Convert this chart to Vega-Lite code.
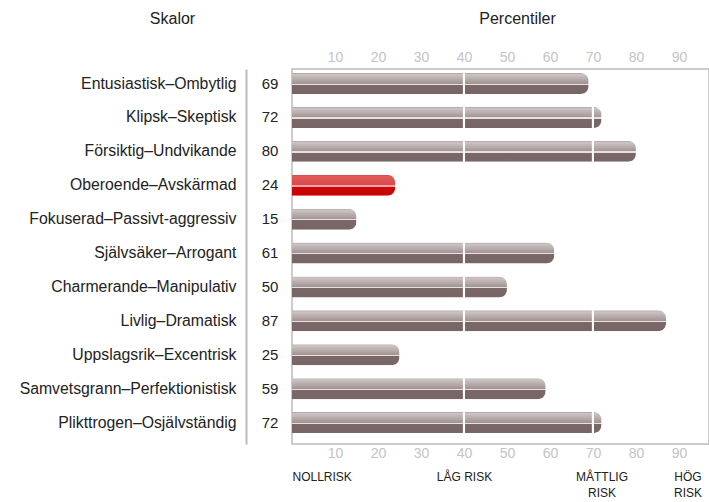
{
  "$schema": "https://vega.github.io/schema/vega-lite/v6.json",
  "width": 417,
  "height": 375,
  "autosize": {"type": "none"},
  "padding": {"left": 292, "top": 69, "right": 0, "bottom": 58},
  "background": "white",
  "config": {
    "view": {"stroke": "#cccccc", "strokeWidth": 2},
    "font": "Liberation Sans"
  },
  "data": {
    "values": [
      {"scale": "Entusiastisk–Ombytlig", "value": 69, "highlight": false},
      {"scale": "Klipsk–Skeptisk", "value": 72, "highlight": false},
      {"scale": "Försiktig–Undvikande", "value": 80, "highlight": false},
      {"scale": "Oberoende–Avskärmad", "value": 24, "highlight": true},
      {"scale": "Fokuserad–Passivt-aggressiv", "value": 15, "highlight": false},
      {"scale": "Självsäker–Arrogant", "value": 61, "highlight": false},
      {"scale": "Charmerande–Manipulativ", "value": 50, "highlight": false},
      {"scale": "Livlig–Dramatisk", "value": 87, "highlight": false},
      {"scale": "Uppslagsrik–Excentrisk", "value": 25, "highlight": false},
      {"scale": "Samvetsgrann–Perfektionistisk", "value": 59, "highlight": false},
      {"scale": "Plikttrogen–Osjälvständig", "value": 72, "highlight": false}
    ]
  },
  "encoding": {
    "y": {
      "field": "scale",
      "type": "nominal",
      "sort": ["Entusiastisk–Ombytlig", "Klipsk–Skeptisk", "Försiktig–Undvikande", "Oberoende–Avskärmad", "Fokuserad–Passivt-aggressiv", "Självsäker–Arrogant", "Charmerande–Manipulativ", "Livlig–Dramatisk", "Uppslagsrik–Excentrisk", "Samvetsgrann–Perfektionistisk", "Plikttrogen–Osjälvständig"],
      "scale": {"paddingInner": 0.38, "paddingOuter": 0.221, "align": 0.27},
      "axis": {
        "title": "Skalor",
        "orient": "left",
        "offset": 46,
        "ticks": false,
        "domainColor": "#bbbbbb",
        "domainWidth": 2,
        "labelPadding": 10,
        "labelFontSize": 15.8,
        "labelLimit": 400,
        "labelColor": "#222222",
        "labelFont": "Liberation Sans",
        "titleAngle": 0,
        "titleFont": "Liberation Sans",
        "titleFontSize": 16,
        "titleFontWeight": "normal",
        "titleColor": "#222222",
        "titleAlign": "center",
        "titleBaseline": "alphabetic",
        "titleX": -74,
        "titleY": -46
      }
    }
  },
  "layer": [
    {
      "transform": [{"filter": "!datum.highlight"}],
      "mark": {
        "type": "bar",
        "cornerRadiusEnd": 8,
        "fill": {
          "gradient": "linear", "x1": 0, "y1": 0, "x2": 0, "y2": 1,
          "stops": [
            {"offset": 0, "color": "#a89b9b"},
            {"offset": 0.07, "color": "#cdc4c4"},
            {"offset": 0.5, "color": "#a29393"},
            {"offset": 0.5, "color": "#e8e0e0"},
            {"offset": 0.56, "color": "#e8e0e0"},
            {"offset": 0.56, "color": "#7a6868"},
            {"offset": 1, "color": "#786666"}
          ]
        }
      },
      "encoding": {
        "x": {
          "field": "value",
          "type": "quantitative",
          "scale": {"domain": [0, 97], "nice": false, "zero": true},
          "axis": {
            "orient": "top",
            "values": [10, 20, 30, 40, 50, 60, 70, 80, 90],
            "ticks": false,
            "domain": false,
            "grid": false,
            "labelColor": "#c4c4c4",
            "labelFontSize": 14,
            "labelPadding": 5,
            "labelFont": "Liberation Sans",
            "title": "Percentiler",
            "titleFont": "Liberation Sans",
            "titleFontSize": 16,
            "titleFontWeight": "normal",
            "titleColor": "#222222",
            "titleAlign": "center",
            "titleBaseline": "alphabetic",
            "titleX": 225,
            "titleY": -46
          }
        }
      }
    },
    {
      "transform": [{"filter": "datum.highlight"}],
      "mark": {
        "type": "bar",
        "cornerRadiusEnd": 8,
        "fill": {
          "gradient": "linear", "x1": 0, "y1": 0, "x2": 0, "y2": 1,
          "stops": [
            {"offset": 0, "color": "#d04040"},
            {"offset": 0.07, "color": "#e25a5a"},
            {"offset": 0.5, "color": "#dc4848"},
            {"offset": 0.5, "color": "#f2a8a8"},
            {"offset": 0.56, "color": "#f2a8a8"},
            {"offset": 0.56, "color": "#cc0a0a"},
            {"offset": 1, "color": "#c80000"}
          ]
        }
      },
      "encoding": {
        "x": {
          "field": "value",
          "type": "quantitative",
          "axis": {
            "orient": "bottom",
            "values": [10, 20, 30, 40, 50, 60, 70, 80, 90],
            "ticks": false,
            "domain": false,
            "grid": false,
            "labelColor": "#c4c4c4",
            "labelFontSize": 14,
            "labelPadding": 2,
            "labelFont": "Liberation Sans",
            "title": null
          }
        }
      }
    },
    {
      "transform": [{"filter": "datum.value > 40"}],
      "mark": {"type": "bar", "fill": "white"},
      "encoding": {
        "x": {
          "datum": 39.75,
          "type": "quantitative",
          "axis": {
            "orient": "bottom",
            "values": [0, 40, 72, 92],
            "labelExpr": "datum.value == 0 ? 'NOLLRISK' : datum.value == 40 ? 'LÅG RISK' : datum.value == 72 ? ['MÅTTLIG', 'RISK'] : ['HÖG', 'RISK']",
            "labelFlush": true,
            "labelOverlap": false,
            "ticks": false,
            "domain": false,
            "grid": false,
            "labelColor": "#222222",
            "labelFontSize": 12,
            "labelLineHeight": 16,
            "labelPadding": 27,
            "labelFont": "Liberation Sans",
            "title": null
          }
        },
        "x2": {"datum": 40.25}
      }
    },
    {
      "transform": [{"filter": "datum.value > 70"}],
      "mark": {"type": "bar", "fill": "white"},
      "encoding": {
        "x": {"datum": 69.75, "type": "quantitative", "axis": null},
        "x2": {"datum": 70.25}
      }
    },
    {
      "mark": {"type": "text", "align": "center", "dx": -22, "fontSize": 15, "font": "Liberation Sans", "color": "#222222"},
      "encoding": {
        "x": {"datum": 0, "type": "quantitative", "axis": null},
        "text": {"field": "value", "type": "quantitative"}
      }
    }
  ],
  "resolve": {"axis": {"x": "independent"}}
}
